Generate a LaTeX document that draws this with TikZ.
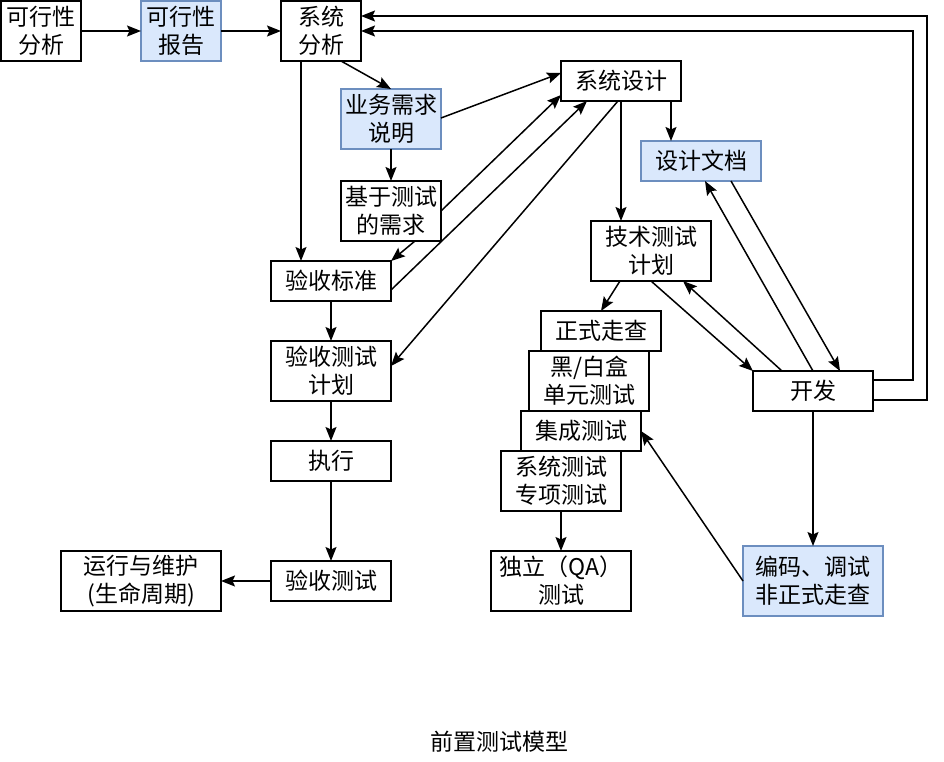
\documentclass[tikz,border=0pt]{standalone}
\usepackage{fontspec}
\setmainfont{Noto Sans CJK SC}
\usetikzlibrary{arrows.meta,calc}
\definecolor{bfill}{HTML}{DAE8FC}
\definecolor{bline}{HTML}{6C8EBF}
\begin{document}
\begin{tikzpicture}[x=1pt,y=-1pt,
  box/.style={draw=black,line width=2pt,rectangle,inner sep=0pt,outer sep=0pt,align=center,
    font=\fontsize{23}{28}\selectfont,fill=white},
  bluebox/.style={box,draw=bline,fill=bfill},
  arr/.style={draw=black,line width=1.5pt,-{Stealth[length=14pt,width=11pt,inset=2.5pt]}},
  ln/.style={draw=black,line width=1.5pt}]
\useasboundingbox (0,0) rectangle (944,762);

% nodes
\node[box,minimum width=80pt,minimum height=60pt] (ksa) at (41,31) {可行性\\分析};
\node[bluebox,minimum width=80pt,minimum height=60pt] (ksr) at (181,31) {可行性\\报告};
\node[box,minimum width=80pt,minimum height=60pt] (xtfx) at (321,31) {系统\\分析};
\node[bluebox,minimum width=100pt,minimum height=60pt] (ywxq) at (391,119) {业务需求\\说明};
\node[box,minimum width=100pt,minimum height=60pt] (jycs) at (391,211) {基于测试\\的需求};
\node[box,minimum width=120pt,minimum height=40pt] (ysbz) at (331,281) {验收标准};
\node[box,minimum width=120pt,minimum height=60pt] (ysjh) at (331,371) {验收测试\\计划};
\node[box,minimum width=120pt,minimum height=40pt] (zx) at (331,461) {执行};
\node[box,minimum width=120pt,minimum height=40pt] (yscs) at (331,581) {验收测试};
\node[box,minimum width=160pt,minimum height=60pt] (yx) at (141,581) {运行与维护\\(生命周期)};
\node[box,minimum width=120pt,minimum height=40pt] (xtsj) at (621,81) {系统设计};
\node[bluebox,minimum width=120pt,minimum height=40pt] (sjwd) at (701,161) {设计文档};
\node[box,minimum width=120pt,minimum height=60pt] (jsjh) at (651,251) {技术测试\\计划};
\node[box,minimum width=120pt,minimum height=40pt] (zszc) at (601,331) {正式走查};
\node[box,minimum width=120pt,minimum height=60pt] (hbh) at (589,381) {黑/白盒\\单元测试};
\node[box,minimum width=120pt,minimum height=40pt] (jc) at (581,431) {集成测试};
\node[box,minimum width=120pt,minimum height=60pt] (xtcs) at (561,481) {系统测试\\专项测试};
\node[box,minimum width=140pt,minimum height=60pt] (dl) at (561,581) {独立（QA）\\测试};
\node[box,minimum width=120pt,minimum height=40pt] (kf) at (813,391) {开发};
\node[bluebox,minimum width=140pt,minimum height=70pt] (bm) at (813,581) {编码、调试\\非正式走查};
\node[font=\fontsize{23}{28}\selectfont,inner sep=0pt] (title) at (499,742) {前置测试模型};

% connectors
\draw[arr] (ksa.east) -- (ksr.west);
\draw[arr] (ksr.east) -- (xtfx.west);
\draw[arr] ([xshift=20pt]xtfx.south) -- (ywxq.north);
\draw[arr] ([xshift=-20pt]xtfx.south) -- ([xshift=-30pt]ysbz.north);
\draw[arr] (ywxq.south) -- (jycs.north);
\draw[arr] ([xshift=24pt]jycs.south) -- (ysbz.north east);
\draw[arr] ([yshift=1pt]ywxq.east) -- ([yshift=8pt]xtsj.west);
\draw[arr] (jycs.east) -- ([yshift=-14pt]xtsj.west);
\draw[arr] ([yshift=-9pt]ysbz.east) -- ([xshift=-34pt]xtsj.south);
\draw[arr] ([xshift=-3pt]xtsj.south) -- ([yshift=5pt]ysjh.east);
\draw[arr] (xtsj.south) -- ([xshift=-30pt]jsjh.north);
\draw[arr] ([xshift=50pt]xtsj.south) -- ([xshift=-30pt]sjwd.north);
\draw[arr] (kf.north) -- ([xshift=4pt]sjwd.south);
\draw[arr] ([xshift=30pt]sjwd.south) -- ([xshift=27pt]kf.north);
\draw[arr] (jsjh.south) -- (kf.north west);
\draw[arr] ([xshift=-31pt]kf.north) -- ([xshift=32pt]jsjh.south);
\draw[arr] ([xshift=-31pt]jsjh.south) -- (zszc.north);
\draw[arr] (kf.south) -- (bm.north);
\draw[arr] (bm.west) -- (jc.east);
\draw[arr] (xtcs.south) -- (dl.north);
\draw[arr] (ysbz.south) -- (ysjh.north);
\draw[arr] (ysjh.south) -- (zx.north);
\draw[arr] (zx.south) -- (yscs.north);
\draw[arr] (yscs.west) -- (yx.east);
\draw[arr] ([yshift=11pt]kf.east) -- ++(40,0) |- (xtfx.east);
\draw[arr] ([yshift=-9pt]kf.east) -- ++(54,0) |- ([yshift=15pt]xtfx.east);
\end{tikzpicture}
\end{document}
